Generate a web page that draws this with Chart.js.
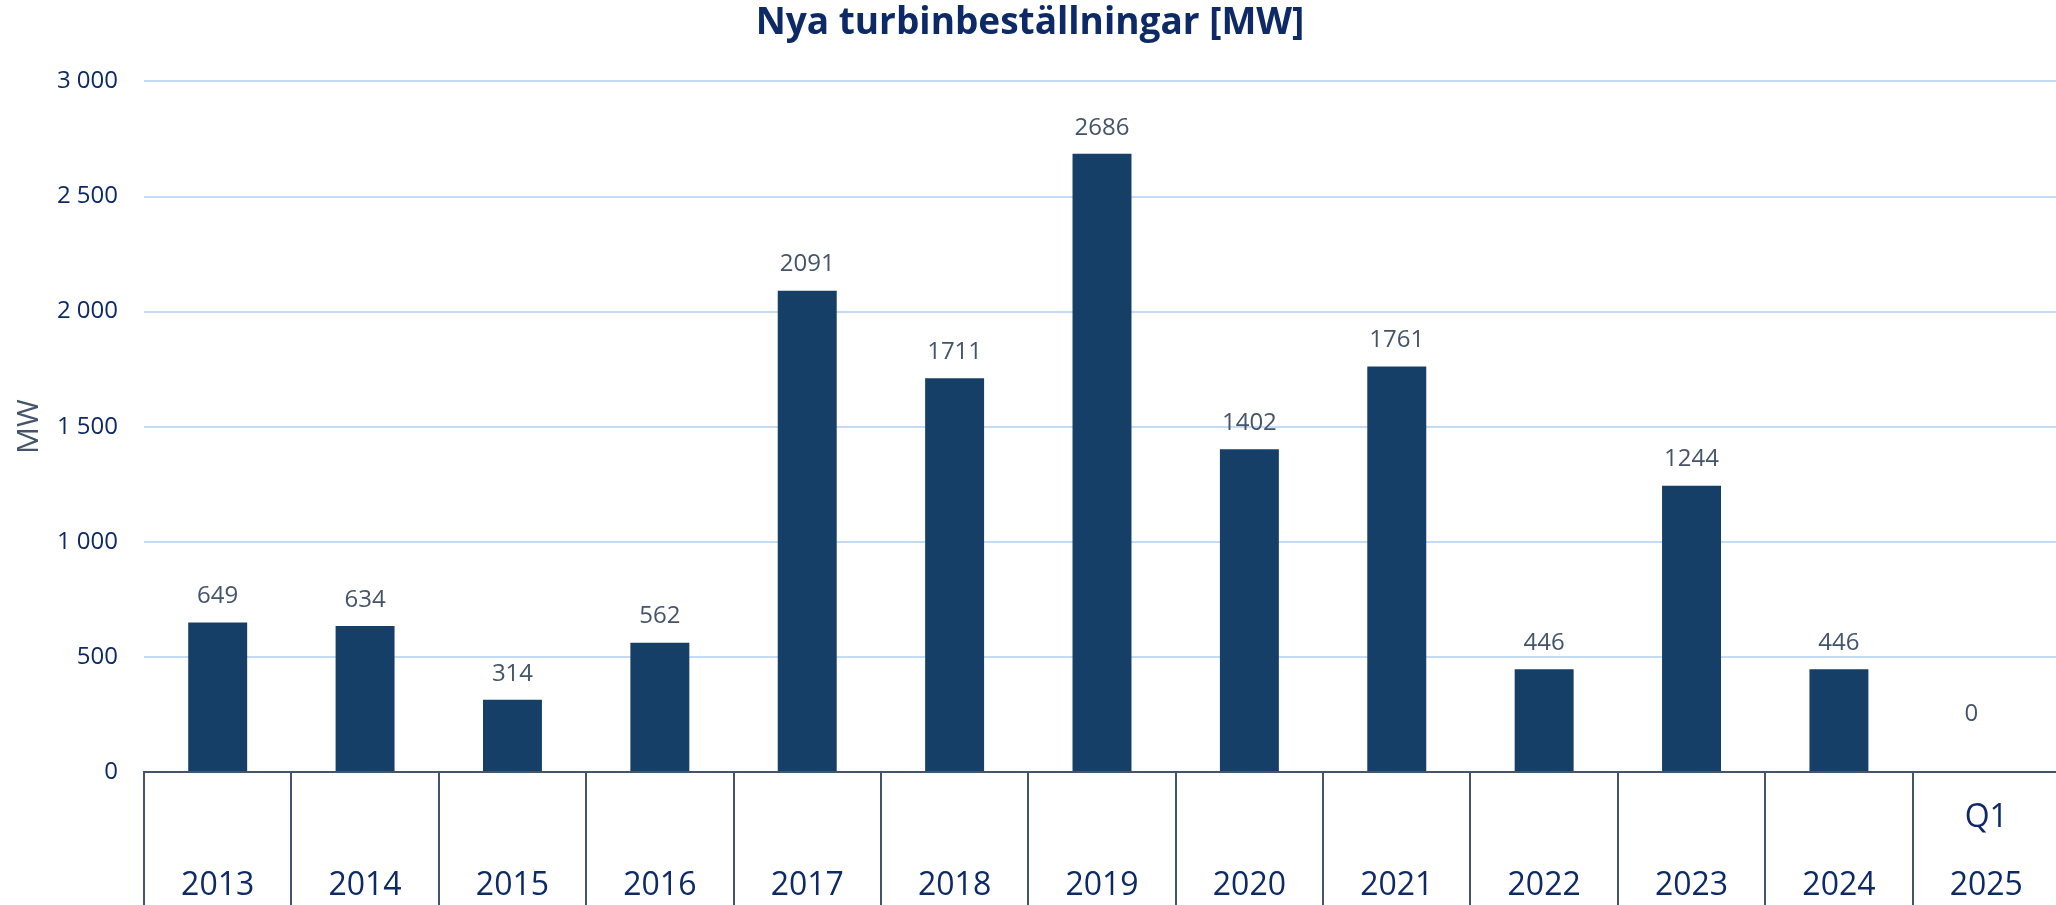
<!DOCTYPE html>
<html>
<head>
<meta charset="utf-8">
<script src="https://cdn.jsdelivr.net/npm/chart.js@4/dist/chart.umd.min.js"></script>
<style>
  html, body { margin: 0; padding: 0; background: #fff; overflow: hidden; }
</style>
</head>
<body>
<canvas id="orders" width="2060" height="905"></canvas>
<script>
// data
const years = [['', '2013'], ['', '2014'], ['', '2015'], ['', '2016'], ['', '2017'], ['', '2018'],
  ['', '2019'], ['', '2020'], ['', '2021'], ['', '2022'], ['', '2023'], ['', '2024'], ['Q1', '2025']];
const megawatts = [649, 634, 314, 562, 2091, 1711, 2686, 1402, 1761, 446, 1244, 446, 0];
const yTicks = [0, 500, 1000, 1500, 2000, 2500, 3000];

const navy = '#0d2a66';
const slate = '#44546a';

const valueLabels = {
  id: 'valueLabels',
  afterDatasetsDraw(chart) {
    const c = chart.ctx;
    const meta = chart.getDatasetMeta(0);
    c.save();
    c.font = '24px "Open Sans"';
    c.fillStyle = slate;
    c.textAlign = 'center';
    c.textBaseline = 'middle';
    meta.data.forEach((bar, i) => {
      const v = megawatts[i];
      // the zero label sits higher and a bit left in the original
      if (v === 0) c.fillText('0', bar.x - 15, bar.y - 58);
      else c.fillText(String(v), bar.x, bar.y - 26);
    });
    c.restore();
  }
};

new Chart(document.getElementById('orders').getContext('2d'), {
  type: 'bar',
  data: {
    labels: years,
    datasets: [{
      label: 'MW',
      data: megawatts,
      backgroundColor: '#153f66',
      barPercentage: 0.4,
      categoryPercentage: 1
    }]
  },
  options: {
    responsive: false,
    animation: false,
    layout: { padding: 0 },
    plugins: {
      legend: { display: false },
      tooltip: { enabled: false },
      title: {
        display: true,
        text: 'Nya turbinbeställningar [MW]',
        color: navy,
        font: { family: 'Open Sans', size: 37, weight: 'bold', lineHeight: 1.2 },
        padding: { top: 1, bottom: 36 }
      }
    },
    scales: {
      x: {
        afterFit(scale) { scale.height = 133; },
        grid: {
          offset: true,
          drawOnChartArea: false,
          drawTicks: true,
          tickLength: 140,
          color: slate,
          lineWidth: 2
        },
        border: { display: true, color: slate, width: 2 },
        ticks: {
          autoSkip: false,
          maxRotation: 0,
          padding: -128,
          color: navy,
          font: { family: 'Open Sans', size: 32, lineHeight: 2.125 }
        }
      },
      y: {
        min: 0,
        max: 3000,
        afterFit(scale) { scale.width = 144; },
        afterBuildTicks(scale) { scale.ticks = yTicks.map(v => ({ value: v })); },
        grid: { color: '#c3dbf5', lineWidth: 2, drawTicks: false },
        border: { display: false },
        ticks: {
          padding: 26,
          color: navy,
          font: { family: 'Open Sans', size: 24 },
          callback: v => String(v).replace(/\B(?=(\d{3})+(?!\d))/g, ' ')
        },
        title: {
          display: true,
          text: 'MW',
          color: slate,
          font: { family: 'Open Sans', size: 30, lineHeight: 1.2 },
          padding: { top: 11, bottom: 8 }
        }
      }
    }
  },
  plugins: [valueLabels]
});
</script>
</body>
</html>
